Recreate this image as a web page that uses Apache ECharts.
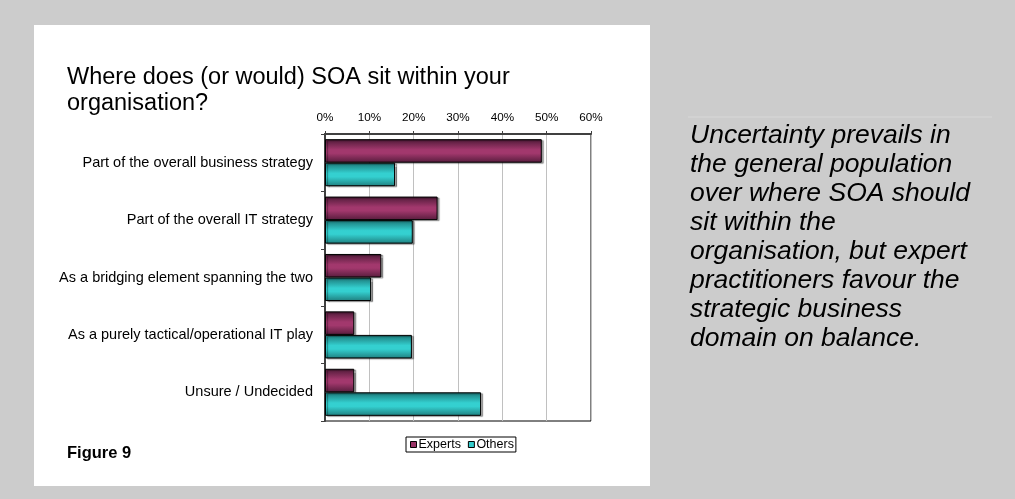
<!DOCTYPE html>
<html>
<head>
<meta charset="utf-8">
<script src="https://cdn.jsdelivr.net/npm/echarts@6/dist/echarts.min.js"></script>
<style>
  html, body { margin: 0; padding: 0; background: #cccccc; }
  #chart { width: 1015px; height: 499px; }
</style>
</head>
<body>
<div id="chart"></div>
<script>
// Survey answers: where SOA sits within the organisation (% of respondents)
const categories = [
  'Part of the overall business strategy',
  'Part of the overall IT strategy',
  'As a bridging element spanning the two',
  'As a purely tactical/operational IT play',
  'Unsure / Undecided'
];
const experts = [48.9, 25.4, 12.7, 6.6, 6.6];
const others = [15.8, 19.8, 10.4, 19.6, 35.2];
const seriesNames = ['Experts', 'Others'];
const axisTicks = [0, 10, 20, 30, 40, 50, 60];

const FONT = "'Liberation Sans', Arial, sans-serif";

// shaded bar fill: dark edges, bright centre
function shade(edgeTop, mid, edgeBottom) {
  return {
    type: 'linear', x: 0, y: 0, x2: 0, y2: 1,
    colorStops: [
      { offset: 0, color: edgeTop },
      { offset: 0.45, color: mid },
      { offset: 0.6, color: mid },
      { offset: 1, color: edgeBottom }
    ]
  };
}

const chart = echarts.init(document.getElementById('chart'), null, { renderer: 'canvas' });

chart.setOption({
  backgroundColor: '#cccccc',
  animation: false,
  textStyle: { fontFamily: FONT },
  graphic: [
    { type: 'rect', z: -10, shape: { x: 34, y: 25, width: 616, height: 461 }, style: { fill: '#ffffff' } },
    { type: 'line', z: -10, shape: { x1: 688, y1: 117, x2: 992, y2: 117 }, style: { stroke: '#d8d8d8', lineWidth: 1 } },
    {
      type: 'text', left: 67, top: 454 - 9,
      style: { text: 'Figure 9', fontFamily: FONT, fontSize: 16.5, fontWeight: 'bold', fill: '#000' }
    },
    {
      type: 'text', left: 690, top: 121,
      style: {
        text: 'Uncertainty prevails in\nthe general population\nover where SOA should\nsit within the\norganisation, but expert\npractitioners favour the\nstrategic business\ndomain on balance.',
        fontFamily: FONT, fontSize: 26.5, fontStyle: 'italic', lineHeight: 29, fill: '#000'
      }
    }
  ],
  title: {
    text: 'Where does (or would) SOA sit within your\norganisation?',
    left: 67, top: 65, padding: 0,
    textStyle: { fontFamily: FONT, fontSize: 23.5, fontWeight: 'normal', lineHeight: 26, color: '#000' }
  },
  legend: {
    left: 406, top: 437,
    padding: [1, 2, 1, 4],
    borderColor: '#000', borderWidth: 1,
    itemWidth: 6, itemHeight: 6, itemGap: 7,
    icon: 'rect',
    textStyle: { fontFamily: FONT, fontSize: 12.5, color: '#000', padding: [0, 0, 0, -3] },
    data: [
      { name: seriesNames[0], itemStyle: { color: '#993366', borderColor: '#000', borderWidth: 1 } },
      { name: seriesNames[1], itemStyle: { color: '#33cccc', borderColor: '#000', borderWidth: 1 } }
    ]
  },
  grid: {
    left: 325, top: 134, right: 1015 - 591, bottom: 499 - 421,
    show: true, borderColor: '#000', borderWidth: 1, backgroundColor: 'transparent'
  },
  xAxis: {
    type: 'value', position: 'top',
    min: axisTicks[0], max: axisTicks[axisTicks.length - 1], interval: 10,
    axisLine: { show: true, lineStyle: { color: '#404040', width: 2 } },
    axisTick: { show: true, length: 3, lineStyle: { color: '#404040' } },
    axisLabel: { formatter: '{value}%', fontFamily: FONT, fontSize: 11.7, color: '#000', margin: 10 },
    splitLine: { show: true, lineStyle: { color: '#c0c0c0', width: 1 } }
  },
  yAxis: {
    type: 'category', inverse: true, data: categories,
    axisLine: { show: true, lineStyle: { color: '#404040', width: 2 } },
    axisTick: { show: true, length: 4, lineStyle: { color: '#404040' } },
    axisLabel: { fontFamily: FONT, fontSize: 14.5, color: '#000', margin: 12 }
  },
  series: [
    {
      name: seriesNames[0], type: 'bar', data: experts,
      barGap: '0%', barCategoryGap: '18%',
      itemStyle: {
        color: shade('#4e1a37', '#a2386d', '#561c3c'),
        borderColor: '#000', borderWidth: 1,
        shadowColor: 'rgba(0,0,0,0.35)', shadowOffsetX: 2, shadowOffsetY: 1, shadowBlur: 1
      }
    },
    {
      name: seriesNames[1], type: 'bar', data: others,
      barGap: '0%', barCategoryGap: '18%',
      itemStyle: {
        color: shade('#1b7676', '#34d0d0', '#1f7f7f'),
        borderColor: '#000', borderWidth: 1,
        shadowColor: 'rgba(0,0,0,0.35)', shadowOffsetX: 2, shadowOffsetY: 1, shadowBlur: 1
      }
    }
  ]
});
</script>
</body>
</html>
